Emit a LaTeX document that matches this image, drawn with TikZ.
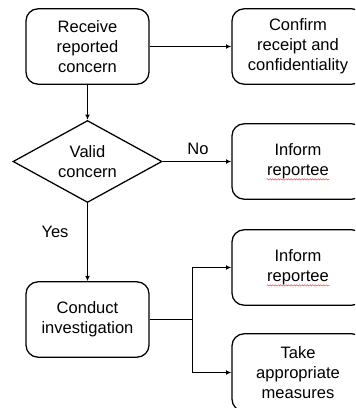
\documentclass[tikz,border=0pt]{standalone}
\usepackage{fontspec}
\setmainfont{Liberation Sans}
\usetikzlibrary{shapes.geometric,arrows.meta,decorations.pathmorphing}
\begin{document}
\begin{tikzpicture}[x=0.75pt,y=-0.75pt,
  box/.style={draw,line width=0.95pt,rounded corners=9pt,inner sep=0pt,
    minimum width=92.25pt,minimum height=56.5pt,align=center,
    font=\fontsize{12.4}{15}\selectfont},
  rbox/.style={box,minimum width=99pt},
  dec/.style={draw,line width=0.95pt,diamond,aspect=1.82,inner sep=0pt,
    minimum width=111.75pt,minimum height=61.5pt,align=center,
    font=\fontsize{12.4}{15}\selectfont},
  conn/.style={line width=0.8pt},
  arr/.style={conn,-{Latex[length=4pt,width=3.6pt]}},
  lab/.style={font=\fontsize{12.4}{15}\selectfont},
  squig/.style={draw=red!75,line width=0.35pt,decorate,
    decoration={snake,amplitude=0.5pt,segment length=2pt}}]
\useasboundingbox (0,0) rectangle (355,408);
\clip (0,0) rectangle (355,408);
\node[box] (recv) at (87.5,46.5) {Receive\\reported\\concern};
\node[rbox] (conf) at (298,46.5) {Confirm\\receipt and\\confidentiality};
\node[dec] (valid) at (87.5,161.5) {Valid\\concern};
\node[rbox] (inf1) at (298,161.5) {Inform\\reportee};
\node[box] (cond) at (87.5,319.5) {Conduct\\investigation};
\node[rbox] (inf2) at (298,267.5) {Inform\\reportee};
\node[rbox,minimum height=58pt] (take) at (298,372.5) {Take\\appropriate\\measures};
\coordinate (fork) at (192.5,319.5);
\draw[arr] (recv.east) -- (recv.east -| conf.west);
\draw[arr] (recv.south) -- (valid.north);
\draw[arr] (valid.east) -- (valid.east -| inf1.west);
\draw[arr] (valid.south) -- (cond.north);
\draw[conn] (cond.east) -- (fork);
\draw[arr] (fork) |- (inf2.west);
\draw[arr] (fork) |- (take.west);
\node[lab] (no) at (198,149) {No};
\node[lab] (yes) at (55,232) {Yes};
\path[squig] ([xshift=-23.5pt,yshift=-13.4pt]inf1.center) -- ([xshift=23.5pt,yshift=-13.4pt]inf1.center);
\path[squig] ([xshift=-23.5pt,yshift=-13.4pt]inf2.center) -- ([xshift=23.5pt,yshift=-13.4pt]inf2.center);
\end{tikzpicture}
\end{document}
